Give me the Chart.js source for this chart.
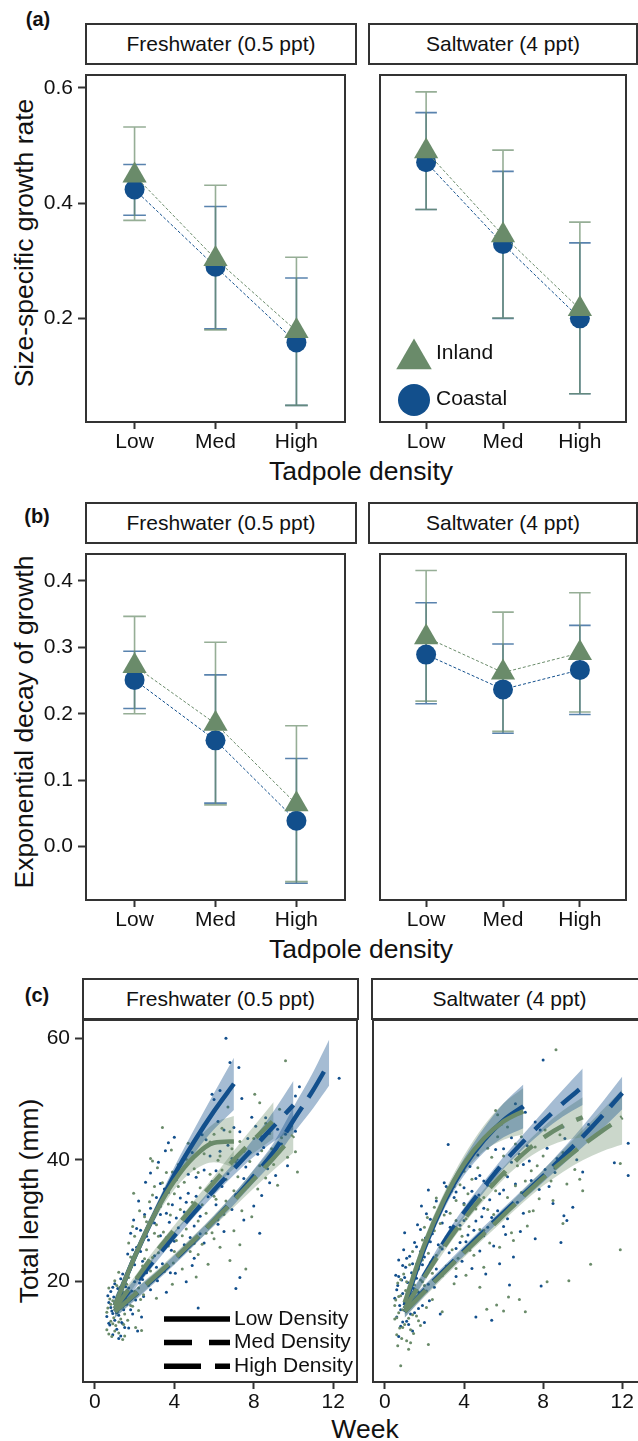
<!DOCTYPE html>
<html><head><meta charset="utf-8"><title>Tadpole growth</title>
<script src="https://cdn.jsdelivr.net/npm/chart.js@4.4.1/dist/chart.umd.min.js"></script>
<style>
html,body{margin:0;padding:0;background:#fff;}
body{width:638px;height:1441px;overflow:hidden;position:relative;font-family:'Liberation Sans',Arial,Helvetica,sans-serif;color:#111;}
canvas{position:absolute;}
.strip{position:absolute;box-sizing:border-box;border:2px solid #333;background:#fff;display:flex;align-items:center;justify-content:center;font-size:21px;white-space:nowrap;}
.tag{position:absolute;font-weight:bold;font-size:20px;transform:translate(-50%,-50%);line-height:1;}
.xt{position:absolute;font-size:26.5px;transform:translate(-50%,-50%);white-space:nowrap;line-height:1;}
.yt{position:absolute;font-size:26.5px;transform:translate(-50%,-50%) rotate(-90deg);white-space:nowrap;line-height:1;}
</style></head><body>
<script>
// ---------------- data ----------------
const densityLabels = ['Low', 'Med', 'High'];
const densityPos = [1, 2, 3];
const facetLabels = ['Freshwater (0.5 ppt)', 'Saltwater (4 ppt)'];
const groupLabels = ['Inland', 'Coastal'];
const densityNames = ['Low Density', 'Med Density', 'High Density'];
const panelTags = ['(a)', '(b)', '(c)'];
const yTitles = ['Size-specific growth rate', 'Exponential decay of growth', 'Total length (mm)'];
const xTitles = ['Tadpole density', 'Tadpole density', 'Week'];

const growthTicks = [0.2, 0.4, 0.6];
const decayTicks = [0.0, 0.1, 0.2, 0.3, 0.4];
const lengthTicks = [20, 40, 60];
const weekTicks = [0, 4, 8, 12];

// (a) size-specific growth rate: mean, lower, upper
const growthFreshInland = [0.448, 0.303, 0.178];
const growthFreshInlandLo = [0.370, 0.180, 0.049];
const growthFreshInlandHi = [0.532, 0.431, 0.306];
const growthFreshCoastal = [0.4235, 0.2896, 0.158];
const growthFreshCoastalLo = [0.379, 0.182, 0.049];
const growthFreshCoastalHi = [0.467, 0.394, 0.270];
const growthSaltInland = [0.490, 0.344, 0.216];
const growthSaltInlandLo = [0.389, 0.2005, 0.069];
const growthSaltInlandHi = [0.593, 0.492, 0.367];
const growthSaltCoastal = [0.471, 0.329, 0.200];
const growthSaltCoastalLo = [0.389, 0.200, 0.069];
const growthSaltCoastalHi = [0.557, 0.455, 0.331];

// (b) exponential decay of growth
const decayFreshInland = [0.272, 0.185, 0.064];
const decayFreshInlandLo = [0.200, 0.063, -0.0525];
const decayFreshInlandHi = [0.3466, 0.3077, 0.182];
const decayFreshCoastal = [0.251, 0.160, 0.039];
const decayFreshCoastalLo = [0.208, 0.0656, -0.055];
const decayFreshCoastalHi = [0.294, 0.2586, 0.1327];
const decaySaltInland = [0.315, 0.262, 0.2915];
const decaySaltInlandLo = [0.219, 0.1735, 0.2027];
const decaySaltInlandHi = [0.4156, 0.353, 0.382];
const decaySaltCoastal = [0.289, 0.2367, 0.266];
const decaySaltCoastalLo = [0.215, 0.1706, 0.1988];
const decaySaltCoastalHi = [0.367, 0.305, 0.333];

// (c) fitted curves (week, length) and ribbon half-widths
const fWeeksLow = [1,2,3,4,5,6,7];
const fLowCoastal = [16,24,31,37.5,43,48,52.5];
const fLowCoastalHW = [1.3,1,1,1.3,2,3,4.3];
const fLowInland = [16,24,31,36.5,40.5,42.8,43];
const fLowInlandHW = [1.3,1,1,1.4,2.2,3.2,4.2];
const fWeeksMedC = [1,2,3,4,5,6,7,8,9,10];
const fMedCoastal = [15.5,19.5,23.5,27.5,31.3,35,38.5,42,45.5,49];
const fMedCoastalHW = [1,0.8,0.7,0.7,0.7,0.8,1,1.5,2.5,4];
const fWeeksMedI = [1,2,3,4,5,6,7,8,9];
const fMedInland = [15.5,20,24.5,28.5,32.5,36.3,40,43.3,46.5];
const fMedInlandHW = [1,0.8,0.7,0.7,0.8,1,1.5,2.2,3];
const fWeeksHighC = [1,2,3,4,5,6,7,8,9,10,11,11.8];
const fHighCoastal = [15,17.7,20.5,23.5,26.7,30,33.5,37.3,41.3,46.5,51.5,56];
const fHighCoastalHW = [1,0.9,0.8,0.8,0.8,0.8,0.9,1.1,1.5,2.2,3,3.8];
const fWeeksHighI = [1,2,3,4,5,6,7,8,9,10];
const fHighInland = [15,17.8,20.7,23.7,26.8,30,33.3,36.8,40.3,44];
const fHighInlandHW = [1,0.9,0.8,0.8,0.8,0.9,1.1,1.5,2,2.8];

const sWeeksLow = [1,2,3,4,5,6,7];
const sLowCoastal = [16,25.5,33,38.8,43.2,46.5,48.8];
const sLowCoastalHW = [1.3,1.1,1.1,1.4,2,2.8,3.6];
const sLowInland = [16.5,26,33.5,39.3,43.5,46.3,48];
const sLowInlandHW = [1.3,1.1,1.1,1.4,2.1,3,3.8];
const sWeeksMed = [1,2,3,4,5,6,7,8,9,10];
const sMedCoastal = [15.5,21,26.5,31.3,35.5,39.5,43,46.3,49.3,52];
const sMedCoastalHW = [1,0.8,0.8,0.8,0.9,1,1.2,1.6,2.2,3];
const sMedInland = [15.5,20.7,25.7,30.2,34.2,37.8,41,43.6,45.6,47];
const sMedInlandHW = [1,0.8,0.8,0.8,0.9,1,1.3,1.8,2.5,3.3];
const sWeeksHigh = [1,2,3,4,5,6,7,8,9,10,11,12];
const sHighCoastal = [15,18.5,21.8,25,28.2,31.3,34.3,37.3,40.5,43.8,47.3,51];
const sHighCoastalHW = [1,0.9,0.8,0.8,0.8,0.8,0.9,1,1.3,1.7,2.2,2.7];
const sHighInland = [15,18.3,21.5,24.7,27.8,30.9,34,37,39.8,42.4,44.8,47];
const sHighInlandHW = [1,0.9,0.8,0.8,0.8,0.9,1,1.3,1.8,2.5,3.4,4.5];

// (c) individual measurements: week, length pairs
const freshCoastalPts = [0.6,14.2,0.7,16.5,0.75,12.8,0.8,18.3,0.85,15.1,0.9,11.2,0.95,17.4,1.0,13.6,1.0,19.6,1.05,15.9,1.1,12.1,1.15,18.8,1.2,14.4,1.25,16.7,1.3,11.0,1.3,20.4,1.35,13.2,1.4,17.9,1.45,15.3,1.5,12.4,1.55,19.1,0.65,17.6,0.9,14.7,1.2,10.6,1.4,21.2,
1.6,16.2,1.65,24.5,1.7,12.3,1.75,21.8,1.8,27.9,1.85,18.4,1.9,14.6,1.95,30.1,2.0,22.7,2.05,16.9,2.1,25.6,2.15,11.8,2.2,33.2,2.25,19.7,2.3,28.4,2.35,14.1,2.4,23.3,2.45,17.5,2.5,31.0,2.2,20.8,
2.55,36.3,2.6,21.4,2.7,26.8,2.8,37.8,2.8,18.6,2.9,30.5,3.0,24.2,3.1,33.8,3.15,20.1,3.2,39.6,3.3,27.5,3.4,22.9,3.5,35.2,3.55,41.5,3.6,18.2,3.7,42.8,3.75,29.7,3.85,25.1,3.9,32.6,4.0,43.7,
4.05,21.3,4.1,36.7,4.2,28.8,4.3,24.6,4.4,39.8,4.5,31.4,4.6,19.9,4.7,34.5,4.8,27.2,4.9,41.2,5.0,23.8,5.1,37.1,5.2,15.6,5.3,30.7,5.4,44.1,5.5,26.3,5.6,43.3,5.7,33.9,5.9,50.8,6.0,49.9,
6.1,38.2,6.2,29.4,6.3,51.4,6.4,35.6,6.6,60.0,6.7,42.4,6.8,56.0,6.9,31.8,7.0,45.3,7.1,18.8,7.15,40.1,7.25,55.2,7.3,20.6,7.5,36.9,7.7,43.5,7.9,47.0,8.1,45.5,8.3,27.9,
8.4,43.8,8.5,42.0,8.7,38.5,9.0,41.0,9.2,45.0,9.4,42.6,9.7,39.0,10.1,44.7,10.1,50.5,10.3,52.0,12.3,53.4,
3.3,36.1,4.6,33.0,5.8,40.6,6.5,44.9,7.6,38.8,8.0,32.4,8.8,36.2,5.0,29.1,4.0,26.6,2.7,23.4,6.2,46.3,7.4,50.1,3.6,31.2,4.3,38.0,
0.7,13.1,0.8,15.7,0.9,19.0,1.0,16.4,1.1,14.8,1.2,18.0,1.3,15.6,1.4,13.0,1.5,16.8,1.6,21.0,1.7,18.9,1.8,15.3,1.9,25.2,2.0,19.9,2.1,28.7,2.3,24.9,2.4,20.3,2.6,27.4,2.8,32.0,3.0,29.6,3.1,22.3,3.3,31.0,3.5,25.8,3.7,34.6,3.8,21.4,
4.1,30.4,4.3,33.7,4.5,26.0,4.7,37.6,4.9,22.6,5.1,34.0,5.3,27.8,5.5,38.3,5.7,29.0,5.9,36.4,6.1,32.6,6.3,41.4,6.5,28.2,6.7,37.7,6.9,40.2,7.1,34.3,7.3,44.6,7.5,30.1,7.8,41.3,8.0,36.8,8.2,40.9,8.4,34.1,8.6,46.9,9.1,37.4,9.6,44.2];
const freshInlandPts = [0.6,12.0,0.65,15.6,0.7,18.9,0.8,13.4,0.85,10.9,0.9,16.8,0.95,14.0,1.0,20.1,1.05,12.7,1.1,17.2,1.15,15.0,1.2,11.5,1.25,19.0,1.3,13.8,1.35,16.1,1.4,10.4,1.45,18.2,1.5,14.6,0.75,17.1,1.0,11.8,1.2,21.5,1.45,12.9,
1.6,19.5,1.65,13.6,1.7,26.3,1.8,16.0,1.85,22.4,1.9,29.0,2.0,18.3,2.05,12.4,2.1,24.8,2.2,15.2,2.25,31.6,2.3,21.0,2.35,11.9,2.4,27.2,2.45,17.8,2.5,23.7,1.95,34.5,2.9,39.8,
2.6,29.8,2.7,19.3,2.8,40.2,2.9,23.9,3.0,35.6,3.1,17.2,3.2,27.4,3.3,32.3,3.4,45.3,3.5,21.6,3.6,37.9,3.7,25.8,3.8,30.9,3.9,19.5,4.0,34.4,2.75,33.1,3.15,38.7,3.45,28.1,3.85,41.6,3.95,23.0,
4.1,26.7,4.2,39.2,4.3,31.8,4.4,22.0,4.5,36.3,4.6,28.6,4.7,42.7,4.8,24.9,4.9,33.0,5.0,38.5,5.1,20.7,5.2,29.9,5.3,35.4,5.4,26.1,5.5,41.0,5.6,31.2,5.7,22.8,5.8,37.6,5.9,28.0,6.0,44.2,
6.1,33.5,6.2,39.9,6.3,25.6,6.4,45.2,6.5,31.0,6.6,36.8,6.7,48.7,6.8,23.4,6.9,41.8,7.0,28.3,7.2,37.2,7.3,43.0,7.4,31.6,7.6,22.0,7.8,39.7,8.05,50.8,8.2,35.2,8.3,49.4,
8.4,41.5,8.6,37.0,8.8,44.3,9.0,39.2,9.2,35.8,9.3,48.3,9.4,43.6,9.6,56.3,9.7,40.4,9.9,45.6,10.1,41.3,10.2,38.0,
3.0,27.9,4.4,30.3,5.6,35.0,6.3,40.6,7.0,34.9,7.9,30.6,8.6,46.0,5.2,24.4,2.3,17.0,6.0,27.0,
0.6,14.9,0.7,11.3,0.8,16.2,0.9,13.0,1.0,15.4,1.1,19.3,1.2,13.3,1.3,17.5,1.4,15.8,1.5,11.0,1.6,17.1,1.7,20.6,1.8,24.0,1.9,15.9,2.0,27.4,2.1,20.5,2.2,18.9,2.4,22.5,2.5,30.6,2.6,25.2,2.8,21.7,2.9,34.2,3.1,29.3,3.2,24.7,3.4,36.2,
3.6,27.2,3.7,32.7,3.9,38.0,4.0,24.9,4.2,35.6,4.4,27.5,4.6,40.1,4.8,30.8,5.0,26.2,5.2,37.9,5.4,32.6,5.6,27.9,5.8,42.9,6.0,34.0,6.2,30.1,6.4,38.3,6.6,33.2,6.8,44.6,7.1,39.6,7.3,26.0,7.5,41.4,7.7,35.6,8.0,43.5,8.3,39.0,8.9,41.8];
const saltCoastalPts = [0.5,17.2,0.55,21.0,0.6,14.1,0.65,19.3,0.7,23.5,0.75,16.0,0.8,12.6,0.85,20.2,0.9,18.0,0.95,25.2,1.0,15.2,1.05,22.3,1.1,13.4,1.15,19.8,1.2,17.0,1.25,24.1,1.3,14.6,1.35,21.4,1.4,11.8,1.45,18.8,1.5,26.4,0.7,10.9,1.0,28.0,1.3,16.4,0.9,22.6,
1.6,20.5,1.65,29.3,1.7,15.5,1.8,24.9,1.85,32.4,1.9,18.1,2.0,13.2,2.05,27.1,2.1,21.6,2.2,35.0,2.25,16.8,2.3,30.2,2.4,23.4,2.5,19.0,2.6,33.2,2.7,26.0,2.8,14.6,2.9,29.6,3.0,21.9,3.1,31.5,3.2,42.5,3.25,24.7,
3.4,27.6,3.5,33.8,3.6,20.8,3.7,37.6,3.8,29.2,3.9,23.3,4.0,35.4,4.1,26.5,4.2,31.0,4.3,38.9,4.4,22.1,4.5,28.4,4.6,14.1,4.7,40.8,4.75,34.2,4.8,25.0,4.9,30.6,5.0,36.5,
5.1,21.2,5.2,28.9,5.3,33.4,5.4,13.6,5.5,25.8,5.6,38.1,5.7,31.6,5.8,22.9,5.9,45.9,6.0,35.0,6.1,27.7,6.2,30.3,6.3,19.4,6.4,39.6,6.5,24.0,6.6,49.2,6.7,33.0,6.85,28.2,6.98,48.5,7.1,47.8,7.2,42.3,7.4,36.6,
7.6,27.0,7.85,44.9,7.9,19.2,8.0,56.4,8.1,38.4,8.35,44.4,8.5,32.8,8.7,40.2,8.9,26.4,9.05,30.8,9.1,43.5,9.2,30.0,9.5,32.2,9.7,40.0,10.3,45.8,10.0,38.0,
11.6,39.5,12.3,42.7,12.3,37.4,
2.4,27.8,3.0,36.2,4.0,30.0,5.0,32.0,6.0,41.8,7.0,39.2,8.3,35.6,3.6,25.4,1.9,22.7,4.6,36.9,
0.6,18.6,0.7,20.8,0.8,15.3,0.9,13.3,1.0,20.6,1.1,23.8,1.2,12.9,1.3,19.1,1.4,22.9,1.5,14.8,1.6,25.7,1.7,18.2,1.8,28.5,1.9,16.0,2.0,24.0,2.1,31.1,2.2,19.5,2.3,26.5,2.5,29.2,2.6,22.0,2.8,31.8,2.9,25.3,3.1,35.6,3.3,28.9,3.4,23.0,
3.6,34.7,3.8,26.4,4.0,32.8,4.2,27.6,4.4,34.8,4.6,29.9,4.8,37.4,5.0,27.5,5.2,35.8,5.4,30.5,5.6,41.7,5.8,34.4,6.0,29.0,6.2,37.2,6.4,43.6,6.6,36.0,6.8,40.9,7.0,31.2,7.3,39.8,7.6,46.2,7.8,35.1,8.2,41.9,8.6,37.9,9.0,45.4,9.4,41.0];
const saltInlandPts = [0.5,13.8,0.55,16.9,0.6,11.2,0.65,19.7,0.7,14.8,0.75,12.3,0.8,6.1,0.8,17.6,0.85,10.6,0.9,15.3,0.95,21.2,1.0,12.9,1.05,18.5,1.1,10.2,1.15,16.2,1.2,13.9,1.25,22.7,1.3,9.9,1.35,17.8,1.4,14.5,1.45,11.4,1.5,19.4,0.65,9.4,1.2,8.8,1.4,24.9,
1.6,14.3,1.7,22.0,1.75,17.4,1.8,12.7,1.9,26.8,2.0,19.3,2.1,15.7,2.15,30.5,2.2,9.6,2.3,23.1,2.4,17.0,2.5,28.3,2.6,33.7,2.7,20.4,2.8,25.6,2.9,15.0,3.0,30.9,3.1,22.5,3.2,35.3,3.35,34.8,
3.4,25.2,3.5,19.6,3.6,30.0,3.7,23.8,3.8,35.9,3.9,27.4,4.0,32.6,4.1,21.0,4.25,29.0,4.4,36.8,4.5,24.3,4.6,31.9,4.8,19.0,4.9,27.9,5.0,33.8,5.15,15.4,
5.2,41.9,5.3,26.3,5.4,36.0,5.6,48.1,5.65,16.1,5.7,43.8,5.7,47.4,5.8,30.8,6.0,15.1,6.1,37.5,6.2,45.4,6.25,17.4,6.4,32.1,6.5,26.7,6.7,39.0,6.8,17.0,6.9,34.6,7.1,15.0,7.2,29.1,7.4,38.2,
7.6,42.1,7.8,33.6,8.0,40.6,8.2,19.9,8.4,36.5,8.65,58.1,8.85,44.1,9.0,29.5,9.2,36.0,9.3,20.1,9.6,38.4,9.85,36.8,10.0,34.9,10.5,43.6,
10.4,22.8,11.9,25.2,11.9,39.4,
2.2,24.6,3.0,26.0,4.2,34.4,5.5,31.0,6.6,42.6,7.5,31.6,8.6,38.6,1.9,19.9,3.6,33.3,5.0,28.4,
0.5,16.0,0.6,14.0,0.7,17.5,0.8,20.3,0.9,12.4,1.0,16.6,1.1,19.9,1.2,15.5,1.3,12.0,1.4,20.9,1.5,16.9,1.6,22.8,1.7,13.5,1.8,20.2,1.9,23.5,2.0,28.9,2.1,18.4,2.2,27.2,2.4,21.3,2.5,32.2,2.6,24.3,2.8,29.5,2.9,20.9,3.1,27.3,3.3,31.2,
3.5,35.6,3.6,22.1,3.8,28.6,4.0,38.1,4.1,30.3,4.3,25.1,4.5,33.4,4.7,38.7,4.8,28.5,5.0,22.3,5.2,31.8,5.4,40.4,5.6,34.9,5.8,25.6,6.0,40.6,6.2,33.8,6.4,28.0,6.6,35.7,6.9,43.8,7.1,36.5,7.3,31.5,7.7,39.0,8.1,44.9,8.5,33.3,9.0,41.2];

// ---------------- style ----------------
const FONT = "'Liberation Sans', Arial, Helvetica, sans-serif";
const BLUE = '#124f8c', GREEN = '#6a8b6a';
const BLUE_ERR = 'rgba(18,79,140,0.7)', GREEN_ERR = 'rgba(106,139,106,0.7)';
const BLUE_BAND = 'rgba(18,79,140,0.38)', GREEN_BAND = 'rgba(106,139,106,0.35)';
const CAP = 0.28;
const LINE_DASH = [[], [23, 14], [30, 11.5]];
const LEG_DASH = [[], [28, 17], [37, 14]];
Chart.defaults.font.family = FONT;
Chart.defaults.color = '#111';

const rows = [
  {stripT: 23, T: 64, H: 358, L: [86, 369], W: [270, 268], tagX: 38, tagY: 19, ytX: 24, xtX: 361, xtY: 471},
  {stripT: 502, T: 543, H: 357, L: [86, 369], W: [270, 268], tagX: 37, tagY: 516, ytX: 23.5, xtX: 361, xtY: 949},
  {stripT: 978, T: 1019, H: 363, L: [83, 372], W: [275, 275], tagX: 37, tagY: 995, ytX: 29, xtX: 365, xtY: 1429}
];

// ---------------- helpers ----------------
function pairs(flat){ const o=[]; for(let i=0;i<flat.length;i+=2) o.push({x:flat[i], y:flat[i+1]}); return o; }
function xy(xs, ys){ return xs.map((x,i)=>({x:x, y:ys[i]})); }
function offset(xs, ys, hw, s){ return xs.map((x,i)=>({x:x, y:ys[i] + s*hw[i]})); }
function div(cls, text, css){ const d=document.createElement('div'); d.className=cls; d.textContent=text; Object.assign(d.style, css); document.body.appendChild(d); return d; }

const framePlugin = {id:'frame', afterDatasetsDraw(chart){
  const {ctx, chartArea:a} = chart; ctx.save(); ctx.strokeStyle='#333'; ctx.lineWidth=2;
  ctx.strokeRect(a.left, a.top, a.right-a.left, a.bottom-a.top); ctx.restore(); }};

function errPlugin(sets){
  return {id:'errbars', beforeDatasetsDraw(chart){
    const {ctx, scales:{x, y}} = chart; ctx.save(); ctx.lineWidth = 1.6;
    sets.forEach(s=>{
      ctx.strokeStyle = s.color;
      densityPos.forEach((p,i)=>{
        const px = x.getPixelForValue(p), h = x.getPixelForValue(p + CAP/2) - px;
        const yl = y.getPixelForValue(s.lo[i]), yh = y.getPixelForValue(s.hi[i]);
        ctx.beginPath(); ctx.moveTo(px, yl); ctx.lineTo(px, yh);
        ctx.moveTo(px-h, yl); ctx.lineTo(px+h, yl); ctx.moveTo(px-h, yh); ctx.lineTo(px+h, yh); ctx.stroke();
      });
    });
    ctx.restore();
  }};
}

const legendA = {id:'legA', afterDatasetsDraw(chart){
  const {ctx, chartArea:a} = chart; ctx.save();
  const cx = a.left + 34, ty = a.top + 284, r = 20.5, s = Math.sin(2*Math.PI/3)*r;
  ctx.fillStyle = GREEN; ctx.beginPath(); ctx.moveTo(cx, ty - r); ctx.lineTo(cx + s, ty + r/2); ctx.lineTo(cx - s, ty + r/2); ctx.closePath(); ctx.fill();
  ctx.fillStyle = BLUE; ctx.beginPath(); ctx.arc(cx, a.top + 325, 16, 0, 2*Math.PI); ctx.fill();
  ctx.fillStyle = '#111'; ctx.font = '21px ' + FONT; ctx.textAlign = 'left'; ctx.textBaseline = 'middle';
  ctx.fillText(groupLabels[0], a.left + 56, a.top + 278);
  ctx.fillText(groupLabels[1], a.left + 56, a.top + 324);
  ctx.restore(); }};

const legendC = {id:'legC', afterDatasetsDraw(chart){
  const {ctx, chartArea:a} = chart; ctx.save();
  ctx.font = '21px ' + FONT; ctx.textAlign = 'left'; ctx.textBaseline = 'middle';
  densityNames.forEach((name, i)=>{
    const y = a.top + 299 + i*23.6;
    ctx.strokeStyle = '#000'; ctx.lineWidth = 5.5; ctx.lineCap = 'butt'; ctx.setLineDash(LEG_DASH[i]);
    ctx.beginPath(); ctx.moveTo(a.left + 81, y); ctx.lineTo(a.left + 147, y); ctx.stroke();
    ctx.setLineDash([]); ctx.fillStyle = '#111'; ctx.fillText(name, a.left + 151, y);
  });
  ctx.restore(); }};

const PAD = 3, YW = 90, XH = 60;
function panel(o){
  const cl = o.showY ? o.L - YW : o.L - PAD;
  const cw = (o.showY ? YW : PAD) + o.W + PAD, ch = PAD + o.H + XH;
  const c = document.createElement('canvas');
  c.width = cw; c.height = ch;
  Object.assign(c.style, {left: cl+'px', top: (o.T-PAD)+'px', width: cw+'px', height: ch+'px'});
  document.body.appendChild(c);
  const tickFont = {family: FONT, size: 21};
  return new Chart(c, {
    type: 'line',
    data: {datasets: o.datasets},
    options: {
      responsive: false, animation: false, devicePixelRatio: 1, events: [],
      layout: {padding: {top: PAD, right: PAD, bottom: 0, left: o.showY ? 0 : PAD}},
      plugins: {legend: {display: false}, tooltip: {enabled: false}},
      scales: {
        x: {type: 'linear', min: o.xMin, max: o.xMax,
          afterBuildTicks: s => { s.ticks = o.xTicks.map(v => ({value: v})); },
          afterFit: s => { s.height = XH; s.paddingLeft = 0; s.paddingRight = 0; },
          ticks: {callback: o.xFmt, font: tickFont, color: '#111', padding: 1, maxRotation: 0, minRotation: 0, autoSkip: false},
          grid: {drawOnChartArea: false, drawTicks: true, tickLength: 7, tickWidth: 2, tickColor: '#333'},
          border: {display: false}},
        y: {type: 'linear', display: o.showY, min: o.yMin, max: o.yMax,
          afterBuildTicks: s => { s.ticks = o.yTicks.map(v => ({value: v})); },
          afterFit: s => { s.width = o.showY ? YW : 0; s.paddingTop = 0; s.paddingBottom = 0; },
          ticks: {callback: o.yFmt, font: tickFont, color: '#111', padding: 5, autoSkip: false},
          grid: {drawOnChartArea: false, drawTicks: true, tickLength: 8, tickWidth: 2, tickColor: '#333'},
          border: {display: false}}
      }
    },
    plugins: [...(o.plugins || []), framePlugin]
  });
}

function meanSets(inland, coastal){
  return [
    {data: xy(densityPos, inland), borderColor: GREEN, backgroundColor: GREEN, borderWidth: 1, borderDash: [3, 2],
     pointStyle: 'triangle', pointRadius: 14, pointBorderWidth: 0, fill: false, order: 1},
    {data: xy(densityPos, coastal), borderColor: BLUE, backgroundColor: BLUE, borderWidth: 1, borderDash: [3, 2],
     pointStyle: 'circle', pointRadius: 10, pointBorderWidth: 0, fill: false, order: 2}
  ];
}

function growthSets(fits){
  const ds = [];
  fits.forEach(f => {
    ds.push({data: offset(f[0], f[1], f[2], 1), borderColor: 'transparent', borderWidth: 0, pointRadius: 0, fill: false, cubicInterpolationMode: 'monotone', order: 20});
    ds.push({data: offset(f[0], f[1], f[2], -1), borderColor: 'transparent', borderWidth: 0, pointRadius: 0, fill: '-1', backgroundColor: f[4], cubicInterpolationMode: 'monotone', order: 20});
  });
  fits.forEach(f => {
    ds.push({data: xy(f[0], f[1]), borderColor: f[3], borderWidth: 4.5, borderDash: LINE_DASH[f[5]], borderCapStyle: 'butt', pointRadius: 0, fill: false, cubicInterpolationMode: 'monotone', order: f[3] === GREEN ? 9 : 10});
  });
  return ds;
}
function pointSets(coastal, inland){
  return [
    {data: pairs(coastal), showLine: false, pointRadius: 1.5, pointBorderWidth: 0, backgroundColor: BLUE, order: 31},
    {data: pairs(inland), showLine: false, pointRadius: 1.5, pointBorderWidth: 0, backgroundColor: GREEN, order: 30}
  ];
}

// ---------------- layout text ----------------
rows.forEach((r, i) => {
  div('tag', panelTags[i], {left: r.tagX+'px', top: r.tagY+'px'});
  [0, 1].forEach(j => div('strip', facetLabels[j], {left: (r.L[j]-1)+'px', top: r.stripT+'px', width: (r.W[j]+2)+'px', height: (r.T - r.stripT + 1)+'px'}));
  div('yt', yTitles[i], {left: r.ytX+'px', top: (r.T + r.H/2)+'px'});
  div('xt', xTitles[i], {left: r.xtX+'px', top: r.xtY+'px'});
});

// ---------------- charts ----------------
const catFmt = v => densityLabels[densityPos.indexOf(v)];
const fmt1 = v => v.toFixed(1);
const fmt0 = v => String(v);
const catRange = {xMin: 0.4, xMax: 3.6, xTicks: densityPos, xFmt: catFmt};

// (a)
panel(Object.assign({showY: true, L: rows[0].L[0], W: rows[0].W[0], T: rows[0].T, H: rows[0].H,
  yMin: 0.0201, yMax: 0.6223, yTicks: growthTicks, yFmt: fmt1,
  datasets: meanSets(growthFreshInland, growthFreshCoastal),
  plugins: [errPlugin([{lo: growthFreshCoastalLo, hi: growthFreshCoastalHi, color: BLUE_ERR}, {lo: growthFreshInlandLo, hi: growthFreshInlandHi, color: GREEN_ERR}])]}, catRange));
panel(Object.assign({showY: false, L: rows[0].L[1], W: rows[0].W[1], T: rows[0].T, H: rows[0].H,
  yMin: 0.0201, yMax: 0.6223, yTicks: growthTicks, yFmt: fmt1,
  datasets: meanSets(growthSaltInland, growthSaltCoastal),
  plugins: [errPlugin([{lo: growthSaltCoastalLo, hi: growthSaltCoastalHi, color: BLUE_ERR}, {lo: growthSaltInlandLo, hi: growthSaltInlandHi, color: GREEN_ERR}]), legendA]}, catRange));

// (b)
panel(Object.assign({showY: true, L: rows[1].L[0], W: rows[1].W[0], T: rows[1].T, H: rows[1].H,
  yMin: -0.0802, yMax: 0.4404, yTicks: decayTicks, yFmt: fmt1,
  datasets: meanSets(decayFreshInland, decayFreshCoastal),
  plugins: [errPlugin([{lo: decayFreshCoastalLo, hi: decayFreshCoastalHi, color: BLUE_ERR}, {lo: decayFreshInlandLo, hi: decayFreshInlandHi, color: GREEN_ERR}])]}, catRange));
panel(Object.assign({showY: false, L: rows[1].L[1], W: rows[1].W[1], T: rows[1].T, H: rows[1].H,
  yMin: -0.0802, yMax: 0.4404, yTicks: decayTicks, yFmt: fmt1,
  datasets: meanSets(decaySaltInland, decaySaltCoastal),
  plugins: [errPlugin([{lo: decaySaltCoastalLo, hi: decaySaltCoastalHi, color: BLUE_ERR}, {lo: decaySaltInlandLo, hi: decaySaltInlandHi, color: GREEN_ERR}])]}, catRange));

// (c)
const weekRange = {xMin: -0.6, xMax: 13.2, xTicks: weekTicks, xFmt: fmt0, yMin: 3.42, yMax: 63.0, yTicks: lengthTicks, yFmt: fmt0};
panel(Object.assign({showY: true, L: rows[2].L[0], W: rows[2].W[0], T: rows[2].T, H: rows[2].H,
  datasets: pointSets(freshCoastalPts, freshInlandPts).concat(growthSets([
    [fWeeksLow, fLowCoastal, fLowCoastalHW, BLUE, BLUE_BAND, 0],
    [fWeeksLow, fLowInland, fLowInlandHW, GREEN, GREEN_BAND, 0],
    [fWeeksMedC, fMedCoastal, fMedCoastalHW, BLUE, BLUE_BAND, 1],
    [fWeeksMedI, fMedInland, fMedInlandHW, GREEN, GREEN_BAND, 1],
    [fWeeksHighC, fHighCoastal, fHighCoastalHW, BLUE, BLUE_BAND, 2],
    [fWeeksHighI, fHighInland, fHighInlandHW, GREEN, GREEN_BAND, 2]
  ])),
  plugins: [legendC]}, weekRange));
panel(Object.assign({showY: false, L: rows[2].L[1], W: rows[2].W[1], T: rows[2].T, H: rows[2].H,
  datasets: pointSets(saltCoastalPts, saltInlandPts).concat(growthSets([
    [sWeeksLow, sLowCoastal, sLowCoastalHW, BLUE, BLUE_BAND, 0],
    [sWeeksLow, sLowInland, sLowInlandHW, GREEN, GREEN_BAND, 0],
    [sWeeksMed, sMedCoastal, sMedCoastalHW, BLUE, BLUE_BAND, 1],
    [sWeeksMed, sMedInland, sMedInlandHW, GREEN, GREEN_BAND, 1],
    [sWeeksHigh, sHighCoastal, sHighCoastalHW, BLUE, BLUE_BAND, 2],
    [sWeeksHigh, sHighInland, sHighInlandHW, GREEN, GREEN_BAND, 2]
  ]))}, weekRange));
</script>
</body></html>
